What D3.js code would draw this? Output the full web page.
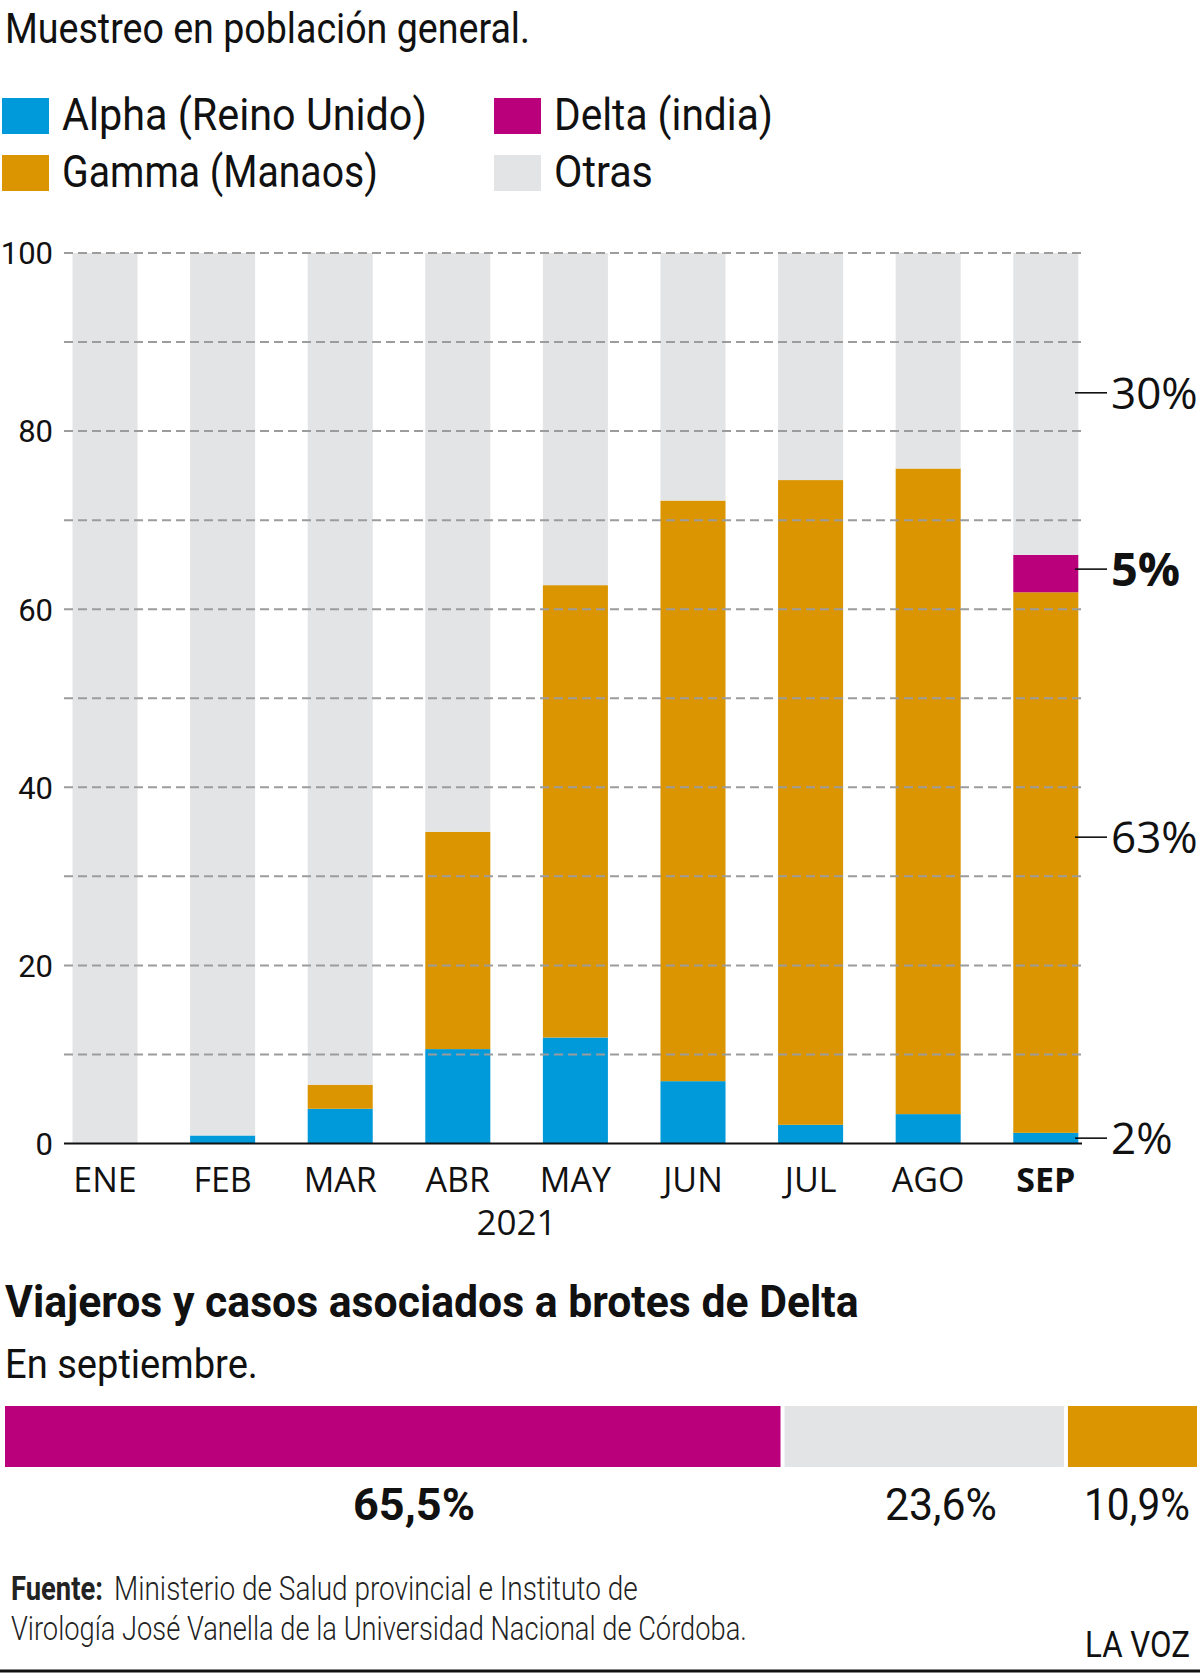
<!DOCTYPE html>
<html>
<head>
<meta charset="utf-8">
<script src="https://cdn.jsdelivr.net/npm/d3@7"></script>
<style>
  html, body { margin: 0; padding: 0; background: #fff; }
  svg { display: block; }
</style>
</head>
<body>
<svg id="chart" width="1200" height="1673"></svg>
<script>
// ---------- DATA ----------
const months = ["ENE", "FEB", "MAR", "ABR", "MAY", "JUN", "JUL", "AGO", "SEP"];
const alpha  = [0, 0.9, 3.9, 10.6, 11.9, 7.0, 2.1, 3.3, 1.2];
const gamma  = [0, 0, 2.7, 24.4, 50.8, 65.2, 72.4, 72.5, 60.7];
const delta  = [0, 0, 0, 0, 0, 0, 0, 0, 4.2];
const otras  = [100, 99.1, 93.4, 65.0, 37.3, 27.8, 25.5, 24.2, 33.9];
const yTicks = [0, 20, 40, 60, 80, 100];
const gridTicks = [0, 10, 20, 30, 40, 50, 60, 70, 80, 90, 100];
const seriesKeys = ["alpha", "gamma", "delta", "otras"];
const seriesNames = ["Alpha (Reino Unido)", "Gamma (Manaos)", "Delta (india)", "Otras"];
const sepLabels = ["30%", "5%", "63%", "2%"];
const sepLabelPos = [84.3, 64.5, 34.4, 0.6];
const sepLabelBold = [false, true, false, false];
const deltaCats = ["Delta", "Otras", "Gamma"];
const deltaVals = [65.5, 23.6, 10.9];
const deltaLabels = ["65,5%", "23,6%", "10,9%"];

const colors = { alpha: "#0099d9", gamma: "#da9500", delta: "#bb007b", otras: "#e3e4e6" };

// ---------- SETUP ----------
const svg = d3.select("#chart");
const condensed = "Roboto, 'Noto Sans', sans-serif";
const open = "'Open Sans', 'Noto Sans', sans-serif";

// Helper: place a text at (x, baseline y) and squeeze it horizontally to a target width
function fitText(parent, str, x0, y0, width, attrs) {
  const t = parent.append("text").attr("x", 0).attr("y", 0);
  Object.entries(attrs).forEach(([k, v]) => t.attr(k, v));
  t.text(str);
  const w = t.node().getComputedTextLength();
  const s = w > 0 ? width / w : 1;
  t.attr("transform", `translate(${x0},${y0}) scale(${s},1)`);
  return t;
}

// Title
fitText(svg, "Muestreo en población general.", 5, 43, 525,
  { "font-family": condensed, "font-size": 42, "fill": "#111" });

// Legend
const legendItems = [
  { key: "alpha", name: seriesNames[0], x: 2, y: 98, tw: 365 },
  { key: "gamma", name: seriesNames[1], x: 2, y: 155, tw: 316 },
  { key: "delta", name: seriesNames[2], x: 494, y: 98, tw: 219 },
  { key: "otras", name: seriesNames[3], x: 494, y: 155, tw: 99 }
];
const lg = svg.append("g");
legendItems.forEach(d => {
  lg.append("rect").attr("x", d.x).attr("y", d.y).attr("width", 47).attr("height", 36)
    .attr("fill", colors[d.key]);
  fitText(lg, d.name, d.x + 60, d.y + 32, d.tw,
    { "font-family": condensed, "font-size": 45, "fill": "#111" });
});

// Scales
const x = d3.scaleBand().domain(months).range([72.5, 1078.3]).paddingInner(0.447).paddingOuter(0);
const y = d3.scaleLinear().domain([0, 100]).range([1143.5, 253]);

// Stacked bars
const rows = months.map((m, i) => ({ month: m, alpha: alpha[i], gamma: gamma[i], delta: delta[i], otras: otras[i] }));
const stacked = d3.stack().keys(seriesKeys)(rows);
svg.append("g").selectAll("g").data(stacked).join("g")
  .attr("fill", s => colors[s.key])
  .selectAll("rect").data(s => s).join("rect")
  .attr("x", d => x(d.data.month))
  .attr("width", x.bandwidth())
  .attr("y", d => y(d[1]))
  .attr("height", d => Math.max(0, y(d[0]) - y(d[1])));

// Gridlines (drawn over bars, as in the reference)
svg.append("g").selectAll("line").data(gridTicks.filter(t => t > 0)).join("line")
  .attr("x1", 64).attr("x2", 1083)
  .attr("y1", d => y(d)).attr("y2", d => y(d))
  .attr("stroke", "#9c9c9c").attr("stroke-width", 2).attr("stroke-dasharray", "9,5");

// Baseline
svg.append("line").attr("x1", 64).attr("x2", 1082).attr("y1", y(0)).attr("y2", y(0))
  .attr("stroke", "#111").attr("stroke-width", 2);

// Y axis labels
const yAxis = d3.axisLeft(y).tickValues(yTicks).tickSize(0).tickPadding(0);
const yg = svg.append("g").attr("transform", "translate(53,0)").call(yAxis);
yg.select(".domain").remove();
yg.selectAll("text").attr("font-family", condensed).attr("font-size", 31).attr("fill", "#111")
  .attr("dy", "0.35em");

// X axis labels
const xAxis = d3.axisBottom(x).tickSize(0).tickPadding(0);
const xg = svg.append("g").attr("transform", "translate(0,1166)").call(xAxis);
xg.select(".domain").remove();
xg.selectAll("text").attr("font-family", open).attr("font-size", 34).attr("fill", "#111")
  .attr("dy", "0.76em")
  .attr("font-weight", d => d === "SEP" ? 700 : 400);

svg.append("text").attr("x", (x("ABR") + x("MAY") + x.bandwidth()) / 2).attr("y", 1235)
  .attr("text-anchor", "middle").attr("font-family", open).attr("font-size", 35).attr("fill", "#111")
  .text("2021");

// SEP annotations
const ann = svg.append("g");
sepLabels.forEach((t, i) => {
  const yy = y(sepLabelPos[i]);
  ann.append("line").attr("x1", 1075).attr("x2", 1107).attr("y1", yy).attr("y2", yy)
    .attr("stroke", "#111").attr("stroke-width", 1.6);
  ann.append("text").attr("x", 1111).attr("y", yy).attr("dy", "0.36em")
    .attr("font-family", open).attr("font-size", sepLabelBold[i] ? 47 : 44).attr("fill", "#111")
    .attr("font-weight", sepLabelBold[i] ? 700 : 400)
    .text(t);
});

// ---------- Bottom section ----------
fitText(svg, "Viajeros y casos asociados a brotes de Delta", 5, 1317, 854,
  { "font-family": condensed, "font-weight": 700, "font-size": 45, "fill": "#111" });
fitText(svg, "En septiembre.", 5, 1378, 253,
  { "font-family": condensed, "font-size": 41, "fill": "#111" });

const gap = 4;
const hx = d3.scaleLinear().domain([0, 100]).range([5, 1197 - gap * (deltaVals.length - 1)]);
const cum = deltaVals.map((v, i) => d3.sum(deltaVals.slice(0, i)));
const segColors = [colors.delta, colors.otras, colors.gamma];
svg.append("g").selectAll("rect").data(deltaVals).join("rect")
  .attr("x", (d, i) => hx(cum[i]) + gap * i)
  .attr("y", 1406).attr("height", 61)
  .attr("width", d => hx(d) - hx(0))
  .attr("fill", (d, i) => segColors[i]);

const lblX = [353, 885, 1084];
const lblW = [122, 112, 106];
deltaLabels.forEach((t, i) => {
  fitText(svg, t, lblX[i], 1520, lblW[i],
    { "font-family": condensed, "font-size": 45, "fill": "#111", "font-weight": i === 0 ? 700 : 400 });
});

// Source
fitText(svg, "Fuente:", 11, 1600, 92,
  { "font-family": condensed, "font-size": 34, "font-weight": 700, "fill": "#222" });
fitText(svg, "Ministerio de Salud provincial e Instituto de", 114, 1600, 524,
  { "font-family": condensed, "font-size": 34, "font-weight": 300, "fill": "#222" });
fitText(svg, "Virología José Vanella de la Universidad Nacional de Córdoba.", 11, 1640, 736,
  { "font-family": condensed, "font-size": 34, "font-weight": 300, "fill": "#222" });

fitText(svg, "LA VOZ", 1085, 1657, 105,
  { "font-family": condensed, "font-size": 37, "fill": "#111" });

svg.append("line").attr("x1", 0).attr("x2", 1200).attr("y1", 1671).attr("y2", 1671)
  .attr("stroke", "#111").attr("stroke-width", 3);
</script>
</body>
</html>
